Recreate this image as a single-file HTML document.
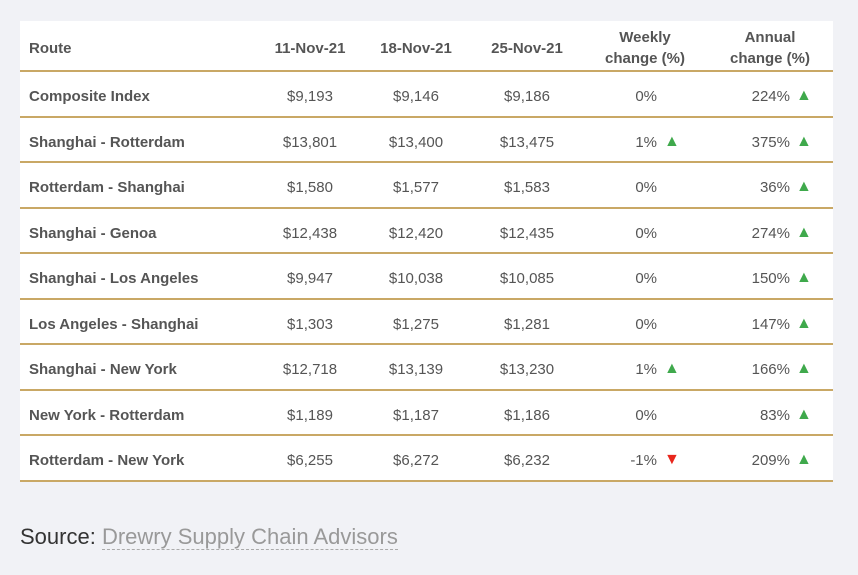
<!DOCTYPE html>
<html><head><meta charset="utf-8"><style>
body{margin:0;width:858px;height:575px;background:#f1f2f6;font-family:"Liberation Sans",sans-serif;color:#555;position:relative;overflow:hidden}
#card{position:absolute;left:20px;top:21px;width:813px;height:460px;background:#fff}
.c{position:absolute;font-size:15px;line-height:18px;white-space:nowrap}
.line{position:absolute;left:0;width:813px;height:2px;background:#c9a865}
.up{color:#3fa94c;font-size:16px}
.dn{color:#e8261c;font-size:16px}
.src{position:absolute;left:20px;top:524px;font-size:22px;color:#333}
.src span{color:#999;border-bottom:1px dashed #aaa}
</style></head><body>
<div id="card"></div>
<div class="src">Source: <span>Drewry Supply Chain Advisors</span></div>
<script>
const routes=["Composite Index","Shanghai - Rotterdam","Rotterdam - Shanghai","Shanghai - Genoa","Shanghai - Los Angeles","Los Angeles - Shanghai","Shanghai - New York","New York - Rotterdam","Rotterdam - New York"];
const nov11=["$9,193","$13,801","$1,580","$12,438","$9,947","$1,303","$12,718","$1,189","$6,255"];
const nov18=["$9,146","$13,400","$1,577","$12,420","$10,038","$1,275","$13,139","$1,187","$6,272"];
const nov25=["$9,186","$13,475","$1,583","$12,435","$10,085","$1,281","$13,230","$1,186","$6,232"];
const weekly=[0,1,0,0,0,0,1,0,-1];
const annual=[224,375,36,274,150,147,166,83,209];
const card=document.getElementById('card');
function cell(txt,x,y,align,bold,name){
 const d=document.createElement('div');d.className='c';
 
 
 d.innerHTML=txt;d.style.top=y+'px';
 if(bold)d.style.fontWeight='bold';
 if(align==='l')d.style.left=x+'px';
 else if(align==='r')d.style.right=(813-x)+'px';
 else{d.style.left=(x-60)+'px';d.style.width='120px';d.style.textAlign='center';}
 card.appendChild(d);return d;}
cell('Route',9,19,'l',true,'header-route');
cell('11-Nov-21',290,19,'c',true,'header-11-nov');
cell('18-Nov-21',396,19,'c',true,'header-18-nov');
cell('25-Nov-21',507,19,'c',true,'header-25-nov');
cell('Weekly<br>change (%)',625,6,'c',true,'header-weekly').style.lineHeight='21px';
cell('Annual<br>change (%)',750,6,'c',true,'header-annual').style.lineHeight='21px';
const top0=50,rh=45.5;
const hl=document.createElement('div');hl.className='line';hl.style.top=top0-1+'px';


card.appendChild(hl);
routes.forEach((r,i)=>{
 const y=top0+i*rh+17;
 cell(r,9,y,'l',true,'route-name');
 cell(nov11[i],290,y,'c',false,'value-11-nov');
 cell(nov18[i],396,y,'c',false,'value-18-nov');
 cell(nov25[i],507,y,'c',false,'value-25-nov');
 const w=weekly[i];
 cell(w+'%',637,y,'r',false,'weekly-change');
 if(w>0)cell('▲',644,y-1,'l',false,'weekly-up-arrow').className='c up';
 if(w<0)cell('▼',644,y-1,'l',false,'weekly-down-arrow').className='c dn';
 cell(annual[i]+'%',770,y,'r',false,'annual-change');
 cell(annual[i]>=0?'▲':'▼',776,y-1,'l',false,'annual-arrow').className='c '+(annual[i]>=0?'up':'dn');
 const l=document.createElement('div');l.className='line';l.style.top=(top0+(i+1)*rh-1)+'px';
 
 
 card.appendChild(l);
});
</script>
</body></html>
